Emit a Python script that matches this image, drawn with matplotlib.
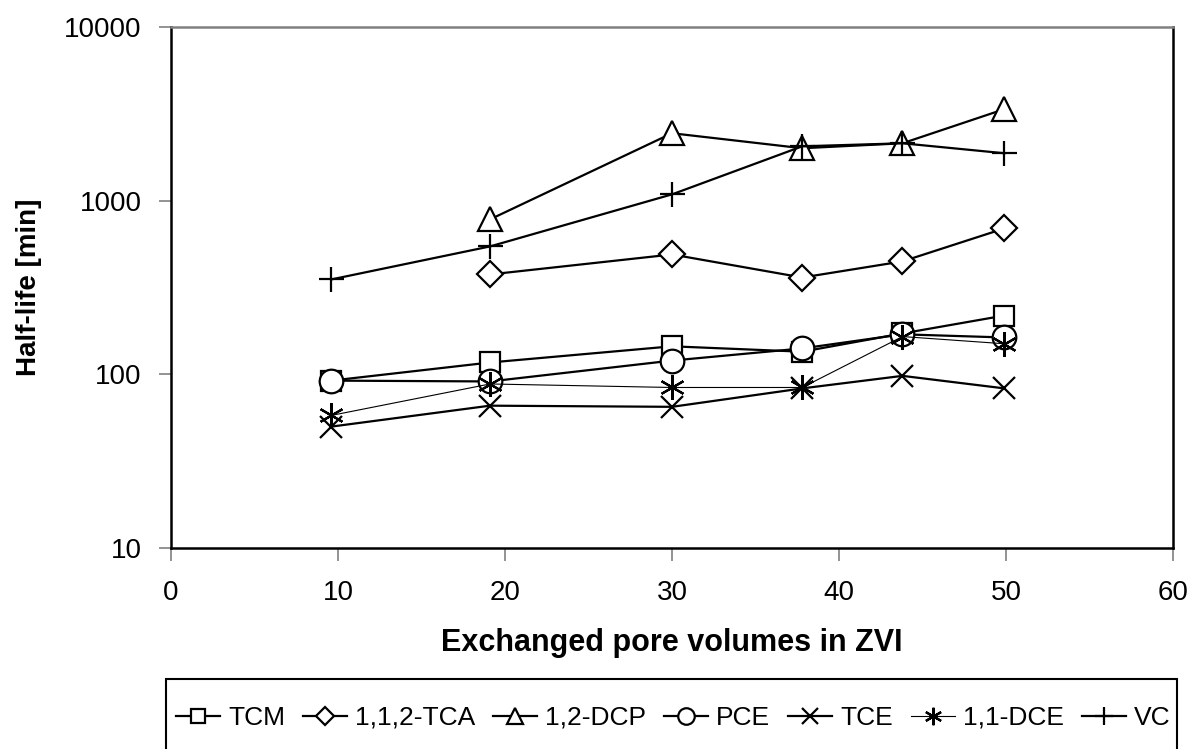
import numpy as np
import matplotlib.pyplot as plt
from matplotlib.patches import Rectangle

plt.rcParams['font.family'] = ['Liberation Sans', 'DejaVu Sans']

# exchanged pore volumes in ZVI
pore_volumes = [9.6, 19.1, 30.0, 37.8, 43.8, 49.9]

# half-lives [min] (None = no point)
tcm = [92, 117, 145, 135, 172, 218]
tca = [None, 376, 490, 361, 447, 692]
dcp = [None, 780, 2445, 2004, 2140, 3365]
pce = [92, 91, 120, 141, 170, 163]
tce = [50, 66, 65, 83, 98, 83]
dce = [58, 88, 84, 84, 165, 150]
vc = [352, 545, 1087, 2056, 2140, 1875]

series = [
    ('TCM', tcm, 's', 1.6),
    ('1,1,2-TCA', tca, 'D', 1.6),
    ('1,2-DCP', dcp, '^', 1.6),
    ('PCE', pce, 'o', 1.6),
    ('TCE', tce, 'x', 1.6),
    ('1,1-DCE', dce, (6, 2, 0), 0.8),
    ('VC', vc, '+', 1.6),
]
msizes = {'s': 15, 'D': 13, '^': 17, 'o': 17, 'x': 16, '+': 18}

fig = plt.figure(figsize=(11.98, 7.49), dpi=100)
ax = fig.add_axes([171 / 1198, 1 - 548 / 749, (1173 - 171) / 1198, (548 - 27) / 749])

for name, vals, mk, lw in series:
    x = np.array([p for p, v in zip(pore_volumes, vals) if v is not None])
    y = np.array([v for v in vals if v is not None], dtype=float)
    ms = msizes.get(mk, 18) if isinstance(mk, str) else 18
    ax.plot(x, y, color='black', lw=lw, marker=mk, ms=ms,
            mfc='white', mec='black', mew=1.6, label=name)

ax.set_yscale('log')
ax.set_xlim(0, 60)
ax.set_ylim(10, 10000)
ax.set_xticks(range(0, 61, 10))
ax.set_yticks([10, 100, 1000, 10000])
ax.set_yticklabels(['10', '100', '1000', '10000'])
ax.yaxis.set_minor_locator(plt.NullLocator())
ax.tick_params(axis='both', labelsize=20, length=9, width=1.2, color='#808080', direction='out')
ax.tick_params(axis='x', pad=14)
ax.tick_params(axis='y', pad=12)

for s in ['left', 'bottom', 'right']:
    ax.spines[s].set_color('black')
    ax.spines[s].set_linewidth(1.8)
ax.spines['top'].set_color('#808080')
ax.spines['top'].set_linewidth(1.8)

ax.set_xlabel('Exchanged pore volumes in ZVI', fontsize=22, fontweight='bold', labelpad=16)
ax.set_ylabel('Half-life [min]', fontsize=20, fontweight='bold', labelpad=16)

# legend box (bottom edge runs off the picture, as in the original)
fig.patches.append(Rectangle((166 / 1198, -0.05), (1177 - 166) / 1198, 1 - 679 / 749 + 0.05,
                             transform=fig.transFigure, fill=False, ec='black', lw=1.5))
leg = fig.legend(loc='center left', bbox_to_anchor=(176 / 1198, 1 - 718 / 749), ncol=7,
                 fontsize=19, frameon=False,
                 handlelength=1.67, handletextpad=0.3, columnspacing=0.68,
                 borderpad=0, borderaxespad=0, markerscale=0.7)

fig.savefig('out.png', dpi=100)
